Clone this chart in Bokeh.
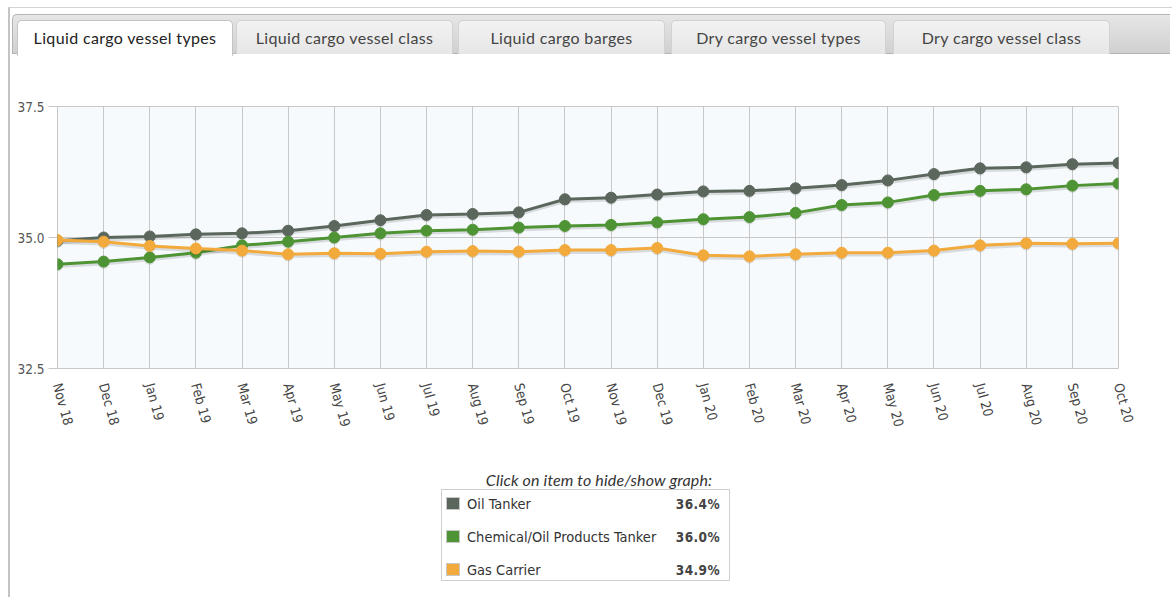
from bokeh.plotting import figure
from bokeh.models import Div, Range1d, FixedTicker, NumeralTickFormatter, ColumnDataSource
from bokeh.layouts import column
from bokeh.transform import dodge
from bokeh.embed import file_html
from bokeh.resources import INLINE

# ---------------- data ----------------
months = ["Nov 18", "Dec 18", "Jan 19", "Feb 19", "Mar 19", "Apr 19", "May 19", "Jun 19",
          "Jul 19", "Aug 19", "Sep 19", "Oct 19", "Nov 19", "Dec 19", "Jan 20", "Feb 20",
          "Mar 20", "Apr 20", "May 20", "Jun 20", "Jul 20", "Aug 20", "Sep 20", "Oct 20"]
oil_tanker = [34.94, 35.00, 35.02, 35.06, 35.08, 35.13, 35.22, 35.33,
              35.43, 35.45, 35.48, 35.73, 35.76, 35.82, 35.88, 35.89,
              35.94, 36.00, 36.09, 36.21, 36.32, 36.34, 36.40, 36.42]
chemical_tanker = [34.49, 34.54, 34.62, 34.71, 34.85, 34.92, 35.00, 35.08,
                   35.13, 35.15, 35.19, 35.22, 35.24, 35.29, 35.35, 35.39,
                   35.47, 35.62, 35.67, 35.81, 35.89, 35.92, 35.99, 36.03]
gas_carrier = [34.95, 34.92, 34.84, 34.79, 34.75, 34.68, 34.70, 34.69,
               34.73, 34.74, 34.73, 34.76, 34.76, 34.80, 34.66, 34.64,
               34.68, 34.71, 34.71, 34.75, 34.85, 34.89, 34.88, 34.89]
series_names = ["Oil Tanker", "Chemical/Oil Products Tanker", "Gas Carrier"]
series_colors = ["#5b675d", "#4f9434", "#f2aa3c"]
y_ticks = [32.5, 35.0, 37.5]
tab_labels = ["Liquid cargo vessel types", "Liquid cargo vessel class", "Liquid cargo barges",
              "Dry cargo vessel types", "Dry cargo vessel class"]
legend_title = "Click on item to hide/show graph:"

x_idx = list(range(len(months)))
src = ColumnDataSource(dict(x=x_idx, oil=oil_tanker, chem=chemical_tanker, gas=gas_carrier))

W = 1162

# ---------------- tabs ----------------
tab_pos = [(7, 216), (226, 217), (448, 207), (661, 215), (883, 217)]
tabs_html = [f'<div style="position:relative;width:{W}px;height:52px;">',
             f'<div style="position:absolute;left:2px;top:6px;width:{W - 4}px;height:40px;'
             'border:1px solid #b4b4b4;border-right:none;border-radius:5px 0 0 0;'
             'background:linear-gradient(to bottom,#e6e6e6,#d0d0d0);"></div>']
for i, (lab, (l, w)) in enumerate(zip(tab_labels, tab_pos)):
    common = ('font-family:Lato;font-size:16px;letter-spacing:0.35px;text-align:center;'
              'line-height:33px;border-radius:5px 5px 0 0;border-bottom:none;white-space:nowrap;')
    if i == 0:
        tabs_html.append(
            f'<div style="position:absolute;left:{l}px;top:12px;width:{w}px;height:36px;'
            f'background:#ffffff;border:1px solid #c4c4c4;color:#222;{common}">{lab}</div>')
    else:
        tabs_html.append(
            f'<div style="position:absolute;left:{l}px;top:12px;width:{w}px;height:34px;'
            'background:linear-gradient(to bottom,#f2f2f2,#e6e6e6);border:1px solid #d2d2d2;'
            f'color:#444;{common}">{lab}</div>')
tabs_html.append('</div>')
tabs = Div(text="".join(tabs_html), width=W, height=52, margin=0)

# ---------------- chart ----------------
p = figure(width=W, height=400, output_backend="svg", toolbar_location=None,
           x_range=Range1d(0, len(months) - 1), y_range=Range1d(32.5, 37.5),
           min_border_left=47, min_border_right=54, min_border_top=46, min_border_bottom=92)
p.background_fill_color = "#f6fafc"
p.border_fill_color = "#ffffff"
p.outline_line_color = "#c8c8c8"
p.outline_line_width = 1

p.xaxis.ticker = FixedTicker(ticks=x_idx)
p.xaxis.major_label_overrides = {i: m for i, m in zip(x_idx, months)}
p.xaxis.major_label_orientation = -1.3
p.xaxis.major_tick_line_color = None
p.xaxis.minor_tick_line_color = None
p.xaxis.axis_line_color = None
p.xaxis.major_label_text_font = "DejaVu Sans Condensed"
p.xaxis.major_label_text_font_size = "13.5px"
p.xaxis.major_label_text_color = "#444444"
p.xaxis.major_label_standoff = 9

p.yaxis.ticker = FixedTicker(ticks=y_ticks)
p.yaxis.formatter = NumeralTickFormatter(format="0.0")
p.yaxis.axis_line_color = None
p.yaxis.major_tick_line_color = "#c8c8c8"
p.yaxis.major_tick_out = 9
p.yaxis.major_tick_in = 0
p.yaxis.minor_tick_line_color = None
p.yaxis.major_label_text_font = "DejaVu Sans Condensed"
p.yaxis.major_label_text_font_size = "13.5px"
p.yaxis.major_label_text_color = "#555555"
p.yaxis.major_label_standoff = 4

p.xgrid.grid_line_color = "#c8c8c8"
p.ygrid.grid_line_color = "#c8c8c8"

for col, color in zip(["oil", "chem", "gas"], series_colors):
    p.line("x", dodge(col, -0.035), source=src, line_color="#000000", line_alpha=0.12, line_width=4)
    p.scatter("x", dodge(col, -0.035), source=src, size=11, fill_color="#000000", fill_alpha=0.10,
              line_color=None)
    p.line("x", col, source=src, line_color=color, line_width=3)
    p.scatter("x", col, source=src, size=11, fill_color=color, line_color=color)

# ---------------- legend ----------------
last_vals = [oil_tanker[-1], chemical_tanker[-1], gas_carrier[-1]]
leg = [f'<div style="position:relative;width:{W}px;height:137px;">',
       '<div style="position:absolute;left:12px;top:10px;width:1154px;text-align:center;white-space:nowrap;'
       f'font-family:Lato;font-style:italic;font-size:16px;letter-spacing:0.15px;color:#333;line-height:20px;">{legend_title}</div>',
       '<div style="position:absolute;left:431px;top:29px;width:289px;height:92px;'
       'border:1px solid #cfcfcf;background:#fff;">']
for k, (name, color, v) in enumerate(zip(series_names, series_colors, last_vals)):
    top = 4 + k * 33
    leg.append(
        f'<div style="position:absolute;left:4px;top:{top}px;width:274px;height:20px;line-height:20px;'
        'font-family:\'DejaVu Sans Condensed\';font-size:14.5px;color:#333;white-space:nowrap;">'
        f'<span style="position:absolute;left:0;top:3px;width:14px;height:13px;background:{color};'
        'border:1px solid #c8c8c8;"></span>'
        f'<span style="position:absolute;left:21px;top:0;">{name}</span>'
        '<span style="position:absolute;right:0;top:0;font-size:13.5px;letter-spacing:0.4px;'
        f'font-weight:bold;color:#444;">{v:.1f}%</span>'
        '</div>')
leg.append('</div></div>')
legend = Div(text="".join(leg), width=W, height=137, margin=0)

layout = column(tabs, p, legend, margin=(7, 0, 0, 8),
                styles={"border-left": "2px solid #c4c4c4", "border-top": "1px solid #d4d4d4"})

open("out.html", "w").write(file_html(layout, INLINE))
